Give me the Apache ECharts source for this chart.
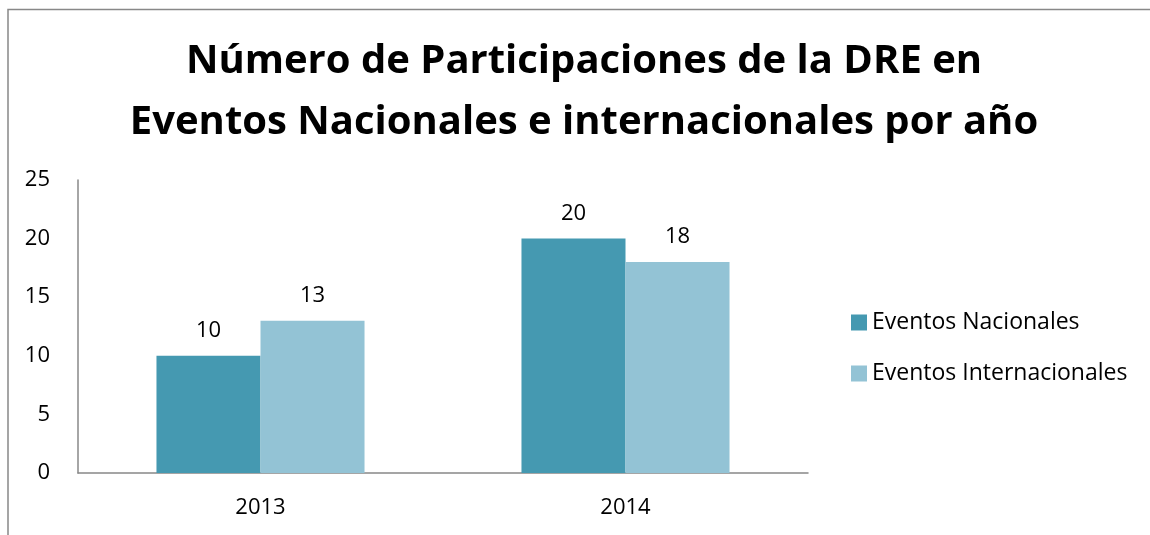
<!DOCTYPE html>
<html><head><meta charset="utf-8">
<script src="https://cdn.jsdelivr.net/npm/echarts@6/dist/echarts.min.js"></script>
<style>html,body{margin:0;padding:0;background:#fff}#c{width:1150px;height:535px}</style>
</head><body><div id="c"></div>
<script>
const categories = ['2013', '2014'];
const nacionales = [10, 20];
const internacionales = [13, 18];
const seriesNames = ['Eventos Nacionales', 'Eventos Internacionales'];
const yTicks = [0, 5, 10, 15, 20, 25];

const chart = echarts.init(document.getElementById('c'), null, {renderer: 'canvas'});
const font = 'Open Sans, Noto Sans, sans-serif';
chart.setOption({
  animation: false,
  title: {
    text: 'Número de Participaciones de la DRE en\nEventos Nacionales e internacionales por año',
    left: 584, top: 31, textAlign: 'center', padding: 0,
    textStyle: {fontFamily: font, fontWeight: 'bold', fontSize: 40, lineHeight: 61, color: '#000'}
  },
  legend: {
    orient: 'vertical', left: 851, top: 311, itemGap: 28, padding: 0,
    itemWidth: 16, itemHeight: 16, icon: 'rect', itemStyle: {borderWidth: 0},
    textStyle: {fontFamily: font, fontSize: 23, color: '#000'},
    data: seriesNames
  },
  grid: {left: 78, right: 342, top: 180, bottom: 62, containLabel: false},
  xAxis: {
    type: 'category', data: categories,
    axisLine: {lineStyle: {color: '#888', width: 1.5}},
    axisTick: {show: false},
    axisLabel: {fontFamily: font, fontSize: 22, color: '#000', margin: 24}
  },
  yAxis: {
    type: 'value', min: 0, max: 25, interval: 5,
    axisLine: {show: true, lineStyle: {color: '#888', width: 1.5}},
    axisTick: {show: false},
    splitLine: {show: false},
    axisLabel: {fontFamily: font, fontSize: 22, color: '#000', margin: 28}
  },
  series: [
    {name: seriesNames[0], type: 'bar', data: nacionales, barWidth: '28.5%', barGap: '0%',
     itemStyle: {color: '#4599B1'},
     label: {show: true, position: 'top', distance: 14, fontFamily: font, fontSize: 22, color: '#000'}},
    {name: seriesNames[1], type: 'bar', data: internacionales, barWidth: '28.5%', barGap: '0%',
     itemStyle: {color: '#93C3D5'},
     label: {show: true, position: 'top', distance: 14, fontFamily: font, fontSize: 22, color: '#000'}}
  ],
  graphic: [
    {type: 'polyline', shape: {points: [[8, 535], [8, 9.5], [1150, 9.5]]},
     style: {stroke: '#888', lineWidth: 1.5, fill: null}, silent: true}
  ]
});
</script></body></html>
